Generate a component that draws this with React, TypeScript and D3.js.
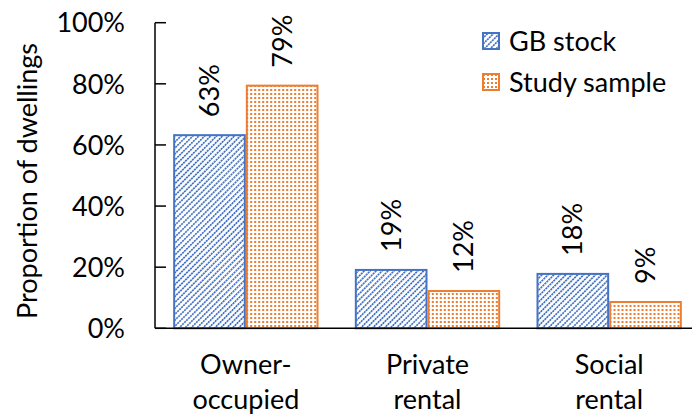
import React from "react";
import * as d3 from "d3";

const categories: string[][] = [["Owner-", "occupied"], ["Private", "rental"], ["Social", "rental"]];
const seriesNames = ["GB stock", "Study sample"];
const gbStock = [0.632, 0.191, 0.178];
const studySample = [0.794, 0.122, 0.086];
const yTicks = [0, 0.2, 0.4, 0.6, 0.8, 1.0];

const W = 692;
const H = 414;
const FONT = "Lato, 'Open Sans', sans-serif";
const FS = 27;
const BLUE = "#4472C4";
const ORANGE = "#ED7D31";

export default function App() {
  const x0 = d3.scaleBand<number>().domain([0, 1, 2]).range([155, 700]).paddingInner(0.2).paddingOuter(0.1);
  const x1 = d3.scaleBand<number>().domain([0, 1]).range([0, x0.bandwidth()]);
  const y = d3.scaleLinear().domain([0, 1]).range([328.3, 22.7]);
  const pct = d3.format(".0%");
  const series = [gbStock, studySample];
  const colors = [BLUE, ORANGE];
  const fills = ["url(#diag)", "url(#dots)"];

  return (
    <svg width={W} height={H} style={{ position: "absolute", left: 0, top: 0 }} fontFamily={FONT}>
      <defs>
        <pattern
          id="diag"
          width={4.2}
          height={2.8}
          patternUnits="userSpaceOnUse"
          patternTransform="rotate(45)"
        >
          <rect width={4.2} height={2.8} fill="#fff" />
          <rect x={0} y={0} width={1.7} height={2.1} fill={BLUE} />
        </pattern>
        <pattern id="dots" width={4} height={4} patternUnits="userSpaceOnUse">
          <rect width={4} height={4} fill="#fff" />
          <rect x={1} y={1} width={2} height={2} fill={ORANGE} />
        </pattern>
      </defs>

      {/* y-axis title */}
      <text
        transform={`translate(37, 181) rotate(-90)`}
        textAnchor="middle"
        fontSize={FS}
        fill="#000"
      >
        Proportion of dwellings
      </text>

      {/* y ticks */}
      {yTicks.map((t) => (
        <g key={t}>
          <line x1={155} x2={166} y1={y(t)} y2={y(t)} stroke="#000" strokeWidth={1.5} />
          <text x={125} y={y(t)} dy="0.36em" textAnchor="end" fontSize={FS} fill="#000">
            {pct(t)}
          </text>
        </g>
      ))}

      {/* bars */}
      {categories.map((c, i) => (
        <g key={i} transform={`translate(${x0(i)},0)`}>
          {series.map((s, j) => {
            const bx = x1(j)!;
            const bw = x1.bandwidth();
            const top = y(s[i]);
            return (
              <g key={j}>
                <rect
                  x={bx + 1}
                  y={top}
                  width={bw - 2}
                  height={y(0) - top}
                  fill={fills[j]}
                  stroke={colors[j]}
                  strokeWidth={2}
                />
                <text
                  transform={`translate(${bx + bw / 2}, ${top - 18}) rotate(-90)`}
                  dy="0.35em"
                  textAnchor="start"
                  fontSize={FS}
                  fill="#000"
                >
                  {pct(s[i])}
                </text>
              </g>
            );
          })}
        </g>
      ))}

      {/* axes lines */}
      <line x1={155} x2={155} y1={y(1)} y2={y(0)} stroke="#000" strokeWidth={1.5} />
      <line x1={155} x2={700} y1={y(0)} y2={y(0)} stroke="#000" strokeWidth={1.5} />

      {/* category labels */}
      {categories.map((c, i) => (
        <text key={i} x={x0(i)! + x0.bandwidth() / 2} textAnchor="middle" fontSize={FS} fill="#000">
          {c.map((line, k) => (
            <tspan key={k} x={x0(i)! + x0.bandwidth() / 2} y={374 + k * 35}>
              {line}
            </tspan>
          ))}
        </text>
      ))}

      {/* legend */}
      {seriesNames.map((n, j) => (
        <g key={n} transform={`translate(482, ${32 + j * 41})`}>
          <rect x={1} y={1} width={16} height={16} fill={fills[j]} stroke={colors[j]} strokeWidth={2} />
          <text x={27} y={9} dy="0.36em" fontSize={FS} fill="#000">
            {n}
          </text>
        </g>
      ))}
    </svg>
  );
}
